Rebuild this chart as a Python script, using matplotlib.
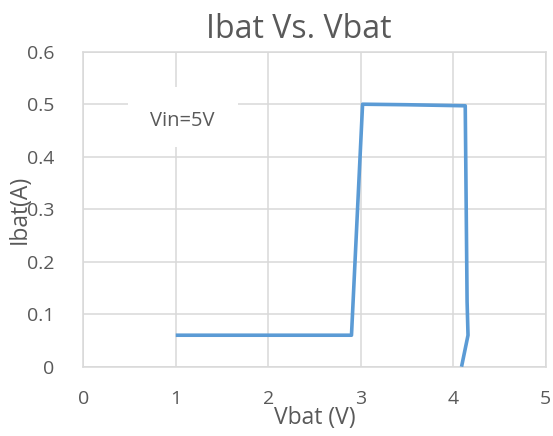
import matplotlib
matplotlib.use("Agg")
import matplotlib.pyplot as plt
from matplotlib.patches import Rectangle

plt.rcParams['font.family'] = ['Open Sans', 'DejaVu Sans']

vbat = [1.0, 2.59, 2.80, 2.90, 3.02, 3.5, 4.13, 4.15, 4.16, 4.09]
ibat = [0.06, 0.06, 0.06, 0.06, 0.500, 0.499, 0.497, 0.124, 0.06, 0.0]
x_ticks = [0, 1, 2, 3, 4, 5]
y_ticks = [0, 0.1, 0.2, 0.3, 0.4, 0.5, 0.6]
y_tick_labels = ["0", "0.1", "0.2", "0.3", "0.4", "0.5", "0.6"]

grid_c = "#D9D9D9"
text_c = "#595959"
line_c = "#5B9BD5"

fig = plt.figure(figsize=(5.53, 4.36), dpi=100)
ax = fig.add_axes([0.1506, 0.1589, 0.8362, 0.7225])

ax.plot(vbat, ibat, color=line_c, lw=2.6, zorder=3, solid_joinstyle='round', solid_capstyle='butt')

ax.set_xlim(0, 5)
ax.set_ylim(0, 0.6)
ax.set_xticks(x_ticks)
ax.set_yticks(y_ticks)
ax.set_yticklabels(y_tick_labels)
ax.grid(True, color=grid_c, lw=1.1, zorder=0)
ax.set_axisbelow(True)
for s in ax.spines.values():
    s.set_color(grid_c)
    s.set_linewidth(1.1)
    s.set_zorder(0.5)
ax.tick_params(length=0, labelsize=14, colors=text_c)
ax.tick_params(axis='x', pad=17)
ax.tick_params(axis='y', pad=21)

ax.add_patch(Rectangle((0.0966, 0.697), 0.237, 0.191, transform=ax.transAxes,
                       facecolor='white', edgecolor='none', zorder=1))
ax.text(0.215, 0.78, "Vin=5V", transform=ax.transAxes, ha='center', va='center',
        fontsize=14.5, color=text_c, zorder=4)

ax.set_title("Ibat Vs. Vbat", fontsize=23, color=text_c, pad=10, x=0.466)
ax.set_xlabel("Vbat (V)", fontsize=16.5, color=text_c)
ax.set_ylabel("Ibat(A)", fontsize=16.5, color=text_c)
ax.xaxis.set_label_coords(0.5, -0.125)
ax.yaxis.set_label_coords(-0.112, 0.5)

fig.savefig("out.png", dpi=100)
